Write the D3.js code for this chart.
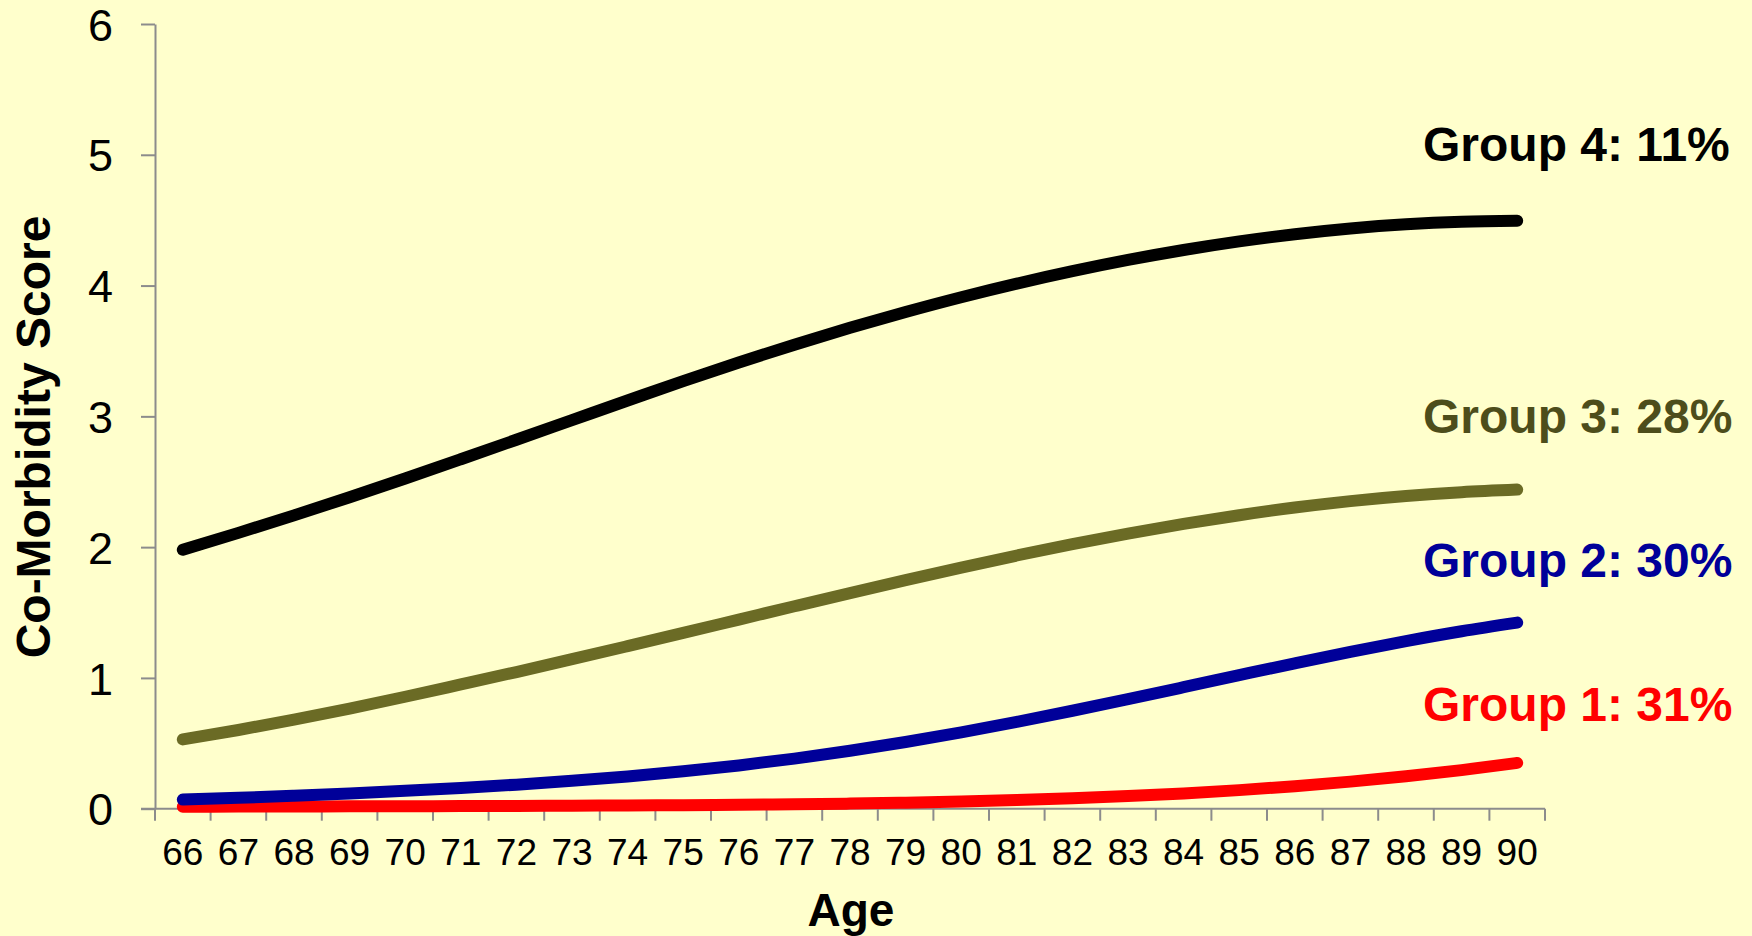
<!DOCTYPE html>
<html>
<head>
<meta charset="utf-8">
<script src="https://cdn.jsdelivr.net/npm/d3@7"></script>
<style>
  html, body { margin: 0; padding: 0; background: #FFFFCC; }
  svg { display: block; }
  text { font-family: "Liberation Sans", Arial, sans-serif; }
</style>
</head>
<body>
<svg id="chart" width="1752" height="936"></svg>
<script>
// ---- data ----
const ages = [66,67,68,69,70,71,72,73,74,75,76,77,78,79,80,81,82,83,84,85,86,87,88,89,90];
const group1 = [0.015,0.016,0.017,0.018,0.019,0.02,0.021,0.023,0.025,0.027,0.03,0.034,0.039,0.046,0.055,0.066,0.08,0.097,0.117,0.142,0.172,0.207,0.248,0.295,0.35];
const group2 = [0.07,0.083,0.099,0.117,0.137,0.159,0.184,0.213,0.247,0.286,0.331,0.383,0.443,0.51,0.584,0.664,0.749,0.838,0.929,1.021,1.112,1.20,1.282,1.357,1.423];
const group3 = [0.53,0.602,0.681,0.766,0.856,0.95,1.045,1.143,1.243,1.344,1.446,1.548,1.649,1.748,1.844,1.936,2.023,2.104,2.178,2.244,2.303,2.352,2.391,2.42,2.44];
const group4 = [1.98,2.109,2.243,2.382,2.525,2.672,2.821,2.971,3.121,3.27,3.412,3.548,3.677,3.798,3.911,4.015,4.11,4.196,4.272,4.338,4.393,4.437,4.469,4.488,4.495];
const groupLabels = ["Group 1: 31%","Group 2: 30%","Group 3: 28%","Group 4: 11%"];
const yTicks = [0,1,2,3,4,5,6];
const xTitle = "Age";
const yTitle = "Co-Morbidity Score";

// ---- layout / style ----
const svg = d3.select("#chart");
const plotLeft = 155, plotRight = 1545, plotTop = 24, plotBottom = 808.7;
const axisColor = "#8C8C8C";
const lineColors = ["#FF0000", "#000099", "#6B6B25", "#000000"];
const labelColors = ["#FF0000", "#000099", "#4D4D1B", "#000000"];
const labelBaselines = [721, 577, 433, 161];

svg.append("rect").attr("width",1752).attr("height",936).attr("fill","#FFFFCC");

const x = d3.scaleBand().domain(ages).range([plotLeft, plotRight]).padding(0);
const y = d3.scaleLinear().domain([0, 6]).range([plotBottom, plotTop]);

// Y axis
const yAxis = svg.append("g").attr("transform", `translate(${plotLeft},0)`)
  .call(d3.axisLeft(y).tickValues(yTicks).tickSize(14).tickPadding(28).tickSizeOuter(0).tickFormat(d3.format("d")));
yAxis.attr("font-family", null).attr("font-size", null);
yAxis.select(".domain").attr("stroke", axisColor).attr("stroke-width", 2);
yAxis.selectAll(".tick line").attr("stroke", axisColor).attr("stroke-width", 2);
yAxis.selectAll(".tick text").attr("fill", "#000").style("font-size", "45px").attr("dy", "0.36em");

// X axis (labels at band centres, ticks at band boundaries)
const xAxis = svg.append("g").attr("transform", `translate(0,${plotBottom})`)
  .call(d3.axisBottom(x).tickSize(0).tickSizeOuter(0));
xAxis.attr("font-family", null).attr("font-size", null);
xAxis.select(".domain").attr("stroke", axisColor).attr("stroke-width", 2)
  .attr("d", `M${plotLeft - 14},0H${plotRight}`);
xAxis.selectAll(".tick text").attr("fill", "#000").style("font-size", "37px")
  .attr("y", 56).attr("dy", 0);
const boundaries = ages.map(a => x(a)).concat([x(ages[ages.length - 1]) + x.bandwidth()]);
xAxis.selectAll("line.bnd").data(boundaries).enter().append("line")
  .attr("class", "bnd")
  .attr("x1", d => d).attr("x2", d => d)
  .attr("y1", 0).attr("y2", 12)
  .attr("stroke", axisColor).attr("stroke-width", 2);

// Lines
const series = [group1, group2, group3, group4];
const line = d3.line()
  .x((d, i) => x(ages[i]) + x.bandwidth() / 2)
  .y(d => y(d))
  .curve(d3.curveMonotoneX);

series.forEach((vals, i) => {
  svg.append("path")
    .attr("d", line(vals))
    .attr("fill", "none")
    .attr("stroke", lineColors[i])
    .attr("stroke-width", 12)
    .attr("stroke-linecap", "round")
    .attr("stroke-linejoin", "round");
});

// Group labels
groupLabels.forEach((t, i) => {
  svg.append("text")
    .attr("x", 1423)
    .attr("y", labelBaselines[i])
    .attr("fill", labelColors[i])
    .style("font-size", "48px")
    .style("font-weight", "bold")
    .text(t);
});

// Axis titles
svg.append("text")
  .attr("x", (plotLeft + plotRight) / 2 + 1)
  .attr("y", 926)
  .attr("text-anchor", "middle")
  .style("font-size", "46px")
  .style("font-weight", "bold")
  .text(xTitle);

svg.append("text")
  .attr("transform", "translate(50,437) rotate(-90)")
  .attr("text-anchor", "middle")
  .style("font-size", "48px")
  .style("font-weight", "bold")
  .text(yTitle);
</script>
</body>
</html>
